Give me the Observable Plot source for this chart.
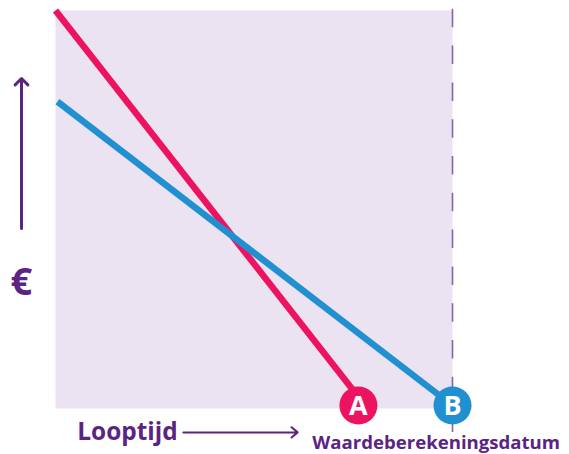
<!DOCTYPE html>
<html>
<head>
<meta charset="utf-8">
<script src="https://cdn.jsdelivr.net/npm/d3@7"></script>
<script src="https://cdn.jsdelivr.net/npm/@observablehq/plot@0.6"></script>
<style>
  html, body { margin: 0; padding: 0; background: #ffffff; }
  #chart svg { display: block; }
</style>
</head>
<body>
<div id="chart"></div>
<script>
// Conceptual units: t = looptijd (0..10), v = waarde in € (0..10)
const pinkLine = [
  {t: 0.0, v: 10.0},
  {t: 7.7, v: 0.2}
];
const blueLine = [
  {t: 0.05, v: 7.71},
  {t: 10.0, v: 0.075}
];
const endPoints = [
  {t: 7.63, v: 0.075, label: "A", series: "A"},
  {t: 10.0, v: 0.075, label: "B", series: "B"}
];
const valuationDate = [10];
const axisLabels = {euro: "€", x: "Looptijd", date: "Waardeberekeningsdatum"};

const PINK = "#ec1460";
const BLUE = "#2190d0";
const LAVENDER = "#ebe3f1";
const PURPLE = "#5b2483";
const DASH = "#8762ad";
const FONT = "'Open Sans', sans-serif";

const chart = Plot.plot({
  width: 569,
  height: 454,
  marginLeft: 55,
  marginRight: 117,
  marginTop: 10,
  marginBottom: 46,
  style: {background: "#ffffff", fontFamily: FONT, overflow: "visible"},
  x: {domain: [0, 10], axis: null},
  y: {domain: [0, 10], axis: null},
  marks: [
    Plot.frame({fill: LAVENDER, stroke: null}),
    Plot.ruleX(valuationDate, {y1: 10.03, y2: -0.8, stroke: DASH, strokeWidth: 1.6, strokeDasharray: "18.5,18.3"}),
    Plot.line(pinkLine, {x: "t", y: "v", stroke: PINK, strokeWidth: 6.5, strokeLinecap: "butt"}),
    Plot.line(blueLine, {x: "t", y: "v", stroke: BLUE, strokeWidth: 6.5, strokeLinecap: "butt"}),
    Plot.dot(endPoints, {x: "t", y: "v", r: 19, fill: d => d.series === "A" ? PINK : BLUE, stroke: null}),
    Plot.text(endPoints, {x: "t", y: "v", text: "label", fill: "#ffffff", fontSize: 27, fontWeight: 700, dy: 1}),
    // vertical € arrow
    Plot.arrow([0], {x1: -0.856, x2: -0.856, y1: 4.52, y2: 8.29, stroke: PURPLE, strokeWidth: 3, headLength: 4.5, headAngle: 90}),
    Plot.text([axisLabels.euro], {x: -0.86, y: 3.17, text: d => d, fill: PURPLE, fontSize: 38, fontWeight: 700}),
    // horizontal Looptijd arrow
    Plot.text([axisLabels.x], {x: 0.55, y: -0.6, text: d => d, fill: PURPLE, fontSize: 24.4, fontWeight: 700, textAnchor: "start"}),
    Plot.arrow([0], {x1: 3.22, x2: 6.1, y1: -0.6, y2: -0.6, stroke: PURPLE, strokeWidth: 2, headLength: 6, headAngle: 80}),
    Plot.text([axisLabels.date], {x: 6.47, y: -0.86, text: d => d, fill: PURPLE, fontSize: 18.6, fontWeight: 700, textAnchor: "start"})
  ]
});
document.getElementById("chart").appendChild(chart);
</script>
</body>
</html>
